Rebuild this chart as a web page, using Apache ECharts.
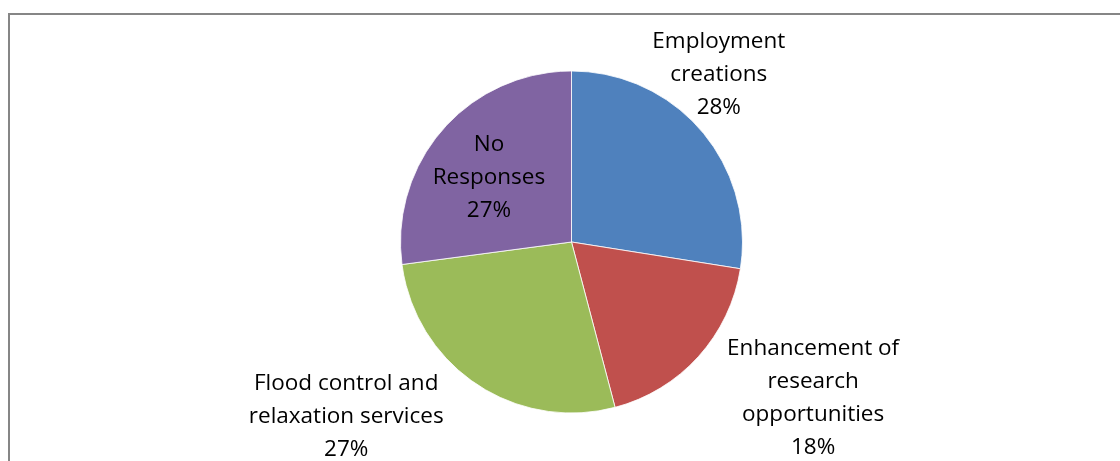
<!DOCTYPE html>
<html>
<head>
<meta charset="utf-8">
<script src="https://cdn.jsdelivr.net/npm/echarts@6/dist/echarts.min.js"></script>
<style>
html,body{margin:0;padding:0;background:#fff;}
#chart{width:1120px;height:461px;}
</style>
</head>
<body>
<div id="chart"></div>
<script>
const categories = ['Employment\ncreations', 'Enhancement of\nresearch\nopportunities', 'Flood control and\nrelaxation services', 'No\nResponses'];
const values = [27.5, 18.4, 27.0, 27.1];
const colors = ['#4F81BD', '#C0504D', '#9BBB59', '#8064A2'];
const labelOffsets = [[80, -110], [176, 97], [-176, 101], [-16, -6]];

const chart = echarts.init(document.getElementById('chart'), null, {renderer: 'canvas'});
const total = values.reduce((a, b) => a + b, 0);
chart.setOption({
  animation: false,
  backgroundColor: '#fff',
  graphic: [{
    type: 'rect',
    shape: {x: 9, y: 14, width: 1300, height: 600},
    style: {fill: 'none', stroke: '#868686', lineWidth: 2},
    silent: true
  }],
  series: [{
    type: 'pie',
    center: [571.5, 242],
    radius: 171,
    startAngle: 90,
    clockwise: true,
    avoidLabelOverlap: false,
    itemStyle: {borderColor: '#ffffff', borderWidth: 0.8},
    labelLine: {show: false},
    data: categories.map((c, i) => ({
      name: c,
      value: values[i],
      itemStyle: {color: colors[i]},
      label: {offset: labelOffsets[i]}
    })),
    label: {
      show: true,
      position: 'inside',
      formatter: p => p.name + '\n' + Math.round(p.value / total * 100) + '%',
      fontFamily: 'Open Sans',
      fontSize: 22.5,
      lineHeight: 33,
      color: '#000',
      align: 'center'
    }
  }]
});
</script>
</body>
</html>
